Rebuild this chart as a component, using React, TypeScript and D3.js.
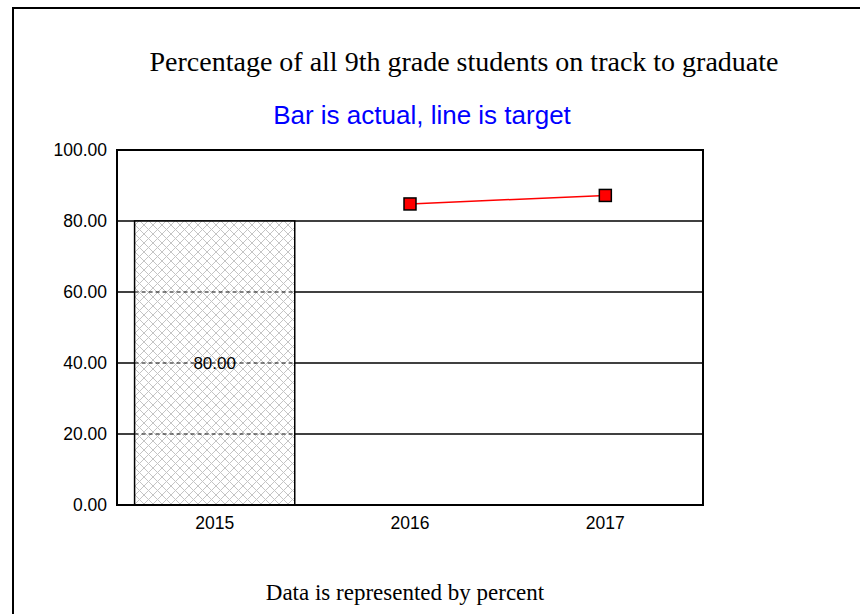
import React, { useEffect, useRef } from "react";
import * as d3 from "d3";

const categories = ["2015", "2016", "2017"];
const actualYears = ["2015"];
const actualValues = [80];
const targetYears = ["2016", "2017"];
const targetValues = [84.8, 87.2];
const yTicks = [0, 20, 40, 60, 80, 100];

const App = () => {
  const chartRef = useRef<SVGSVGElement | null>(null);

  useEffect(() => {
    drawChart();
  }, []);

  const drawChart = () => {
    const width = 860,
      height = 614;
    const plot = { left: 117, right: 703, top: 150, bottom: 505 };
    const sans = "Arial, 'Liberation Sans', sans-serif";
    const serif = "'Liberation Serif', 'Times New Roman', serif";

    const svg = d3.select(chartRef.current);
    svg.selectAll("*").remove();

    svg.append("rect").attr("width", width).attr("height", height).attr("fill", "white");

    // hatch pattern for the bar
    const defs = svg.append("defs");
    const pat = defs
      .append("pattern")
      .attr("id", "hatch")
      .attr("patternUnits", "userSpaceOnUse")
      .attr("width", 9)
      .attr("height", 9);
    pat.append("rect").attr("width", 9).attr("height", 9).attr("fill", "white");
    pat.append("path").attr("d", "M0,0 L9,9 M9,0 L0,9").attr("stroke", "#c4c4c4").attr("stroke-width", 1);

    // outer frame
    svg
      .append("path")
      .attr("d", `M13,${height} L13,8 L${width},8`)
      .attr("fill", "none")
      .attr("stroke", "black")
      .attr("stroke-width", 2);

    const x = d3
      .scaleBand()
      .domain(categories)
      .range([plot.left, plot.right])
      .paddingInner(0.18)
      .paddingOuter(0.09);

    const xPoint = (c: string) => (x(c) as number) + x.bandwidth() / 2;

    const y = d3.scaleLinear().domain([0, 100]).range([plot.bottom, plot.top]);

    // gridlines
    svg
      .append("g")
      .selectAll("line")
      .data(yTicks)
      .join("line")
      .attr("x1", plot.left)
      .attr("x2", plot.right)
      .attr("y1", (d) => y(d))
      .attr("y2", (d) => y(d))
      .attr("stroke", "black")
      .attr("stroke-width", 1.5);

    // bars
    const barData = actualYears.map((c, i) => ({ c, v: actualValues[i] }));
    svg
      .append("g")
      .selectAll("rect")
      .data(barData)
      .join("rect")
      .attr("x", (d) => x(d.c) as number)
      .attr("width", x.bandwidth())
      .attr("y", (d) => y(d.v))
      .attr("height", (d) => y(0) - y(d.v))
      .attr("fill", "url(#hatch)")
      .attr("stroke", "black")
      .attr("stroke-width", 1.5);

    // dashed gridlines over the bar
    barData.forEach((b) => {
      svg
        .append("g")
        .selectAll("line")
        .data(yTicks.filter((t) => t > 0 && t < b.v))
        .join("line")
        .attr("x1", x(b.c) as number)
        .attr("x2", (x(b.c) as number) + x.bandwidth())
        .attr("y1", (d) => y(d))
        .attr("y2", (d) => y(d))
        .attr("stroke", "black")
        .attr("stroke-width", 1)
        .attr("stroke-dasharray", "4,3");
    });

    // bar labels
    svg
      .append("g")
      .selectAll("text")
      .data(barData)
      .join("text")
      .attr("x", (d) => xPoint(d.c))
      .attr("y", (d) => y(d.v / 2) + 6)
      .attr("text-anchor", "middle")
      .style("font-family", sans)
      .style("font-size", "17px")
      .attr("fill", "black")
      .text((d) => d.v.toFixed(2));

    // plot frame + axes
    svg
      .append("rect")
      .attr("x", plot.left)
      .attr("y", plot.top)
      .attr("width", plot.right - plot.left)
      .attr("height", plot.bottom - plot.top)
      .attr("fill", "none")
      .attr("stroke", "black")
      .attr("stroke-width", 2);

    const yAxis = svg
      .append("g")
      .attr("transform", `translate(${plot.left},0)`)
      .call(d3.axisLeft(y).tickValues(yTicks).tickFormat(d3.format(".2f")).tickSize(0).tickPadding(10));
    yAxis.select(".domain").remove();
    yAxis
      .selectAll("text")
      .style("font-family", sans)
      .style("font-size", "17.5px")
      .attr("fill", "black");

    const xAxis = svg
      .append("g")
      .attr("transform", `translate(0,${plot.bottom})`)
      .call(d3.axisBottom(x).tickSize(0).tickPadding(12));
    xAxis.select(".domain").remove();
    xAxis
      .selectAll("text")
      .style("font-family", sans)
      .style("font-size", "17.5px")
      .attr("fill", "black");

    // target line
    const targetData = targetYears.map((c, i) => ({ c, v: targetValues[i] }));
    const line = d3
      .line<{ c: string; v: number }>()
      .x((d) => xPoint(d.c))
      .y((d) => y(d.v));
    svg
      .append("path")
      .datum(targetData)
      .attr("d", line)
      .attr("fill", "none")
      .attr("stroke", "red")
      .attr("stroke-width", 1.5);
    svg
      .append("g")
      .selectAll("rect")
      .data(targetData)
      .join("rect")
      .attr("x", (d) => xPoint(d.c) - 6)
      .attr("y", (d) => y(d.v) - 6)
      .attr("width", 12)
      .attr("height", 12)
      .attr("fill", "red")
      .attr("stroke", "black")
      .attr("stroke-width", 1.5);

    // titles
    svg
      .append("text")
      .attr("x", 464)
      .attr("y", 71)
      .attr("text-anchor", "middle")
      .style("font-family", serif)
      .style("font-size", "28px")
      .text("Percentage of all 9th grade students on track to graduate");

    svg
      .append("text")
      .attr("x", 422)
      .attr("y", 124)
      .attr("text-anchor", "middle")
      .style("font-family", sans)
      .style("font-size", "26px")
      .attr("fill", "#0000ff")
      .text("Bar is actual, line is target");

    svg
      .append("text")
      .attr("x", 405)
      .attr("y", 600)
      .attr("text-anchor", "middle")
      .style("font-family", serif)
      .style("font-size", "23px")
      .text("Data is represented by percent");
  };

  return (
    <svg
      ref={chartRef}
      width={860}
      height={614}
      style={{ position: "absolute", left: 0, top: 0, display: "block" }}
    />
  );
};

export default App;
